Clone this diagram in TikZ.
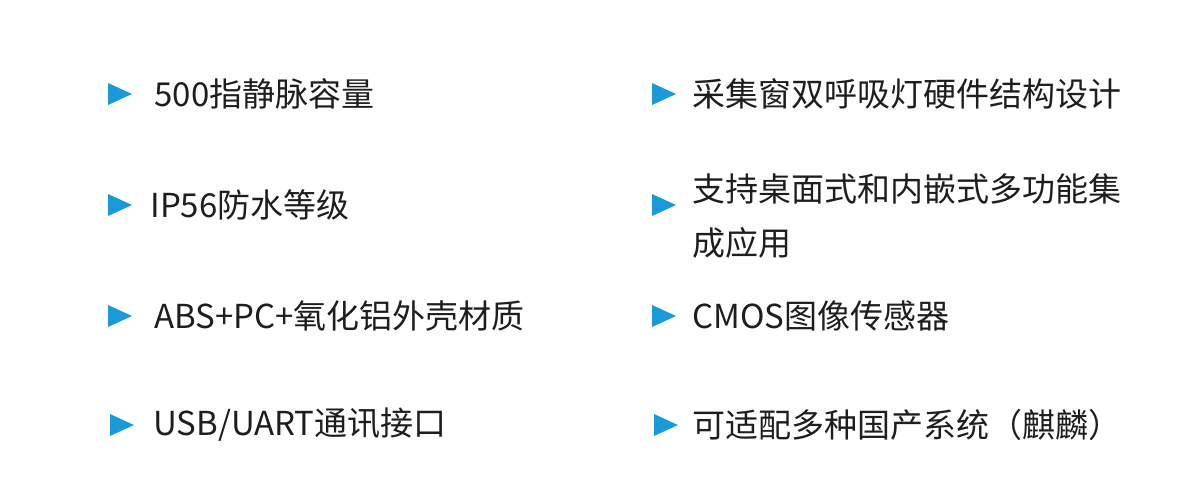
\documentclass[tikz,border=0pt]{standalone}
\usepackage{fontspec}
\setmainfont{Noto Sans CJK SC}
\begin{document}
\begin{tikzpicture}[x=0.5pt,y=-0.5pt,
  tri/.style={fill={rgb,255:red,26;green,154;blue,214},draw=none},
  item/.style={anchor=west,inner sep=0,text={rgb,255:red,30;green,30;blue,30},font=\fontsize{16.5}{27}\selectfont,align=left}]
\useasboundingbox (0,0) rectangle (1200,500);
\foreach \x/\y [count=\i] in {108/94,108/205,108/316,110/425,652/94,652/205,652/316,654/425}{
  \fill[tri] (\x,\y-11) -- (\x+24,\y) -- (\x,\y+11) -- cycle;
}
\node[item] (a1) at (154,94) {500指静脉容量};
\node[item] (a2) at (150,205) {IP56防水等级};
\node[item] (a3) at (154,316) {ABS+PC+氧化铝外壳材质};
\node[item] (a4) at (153,425) {USB/UART通讯接口};
\node[item] (b1) at (692,94) {采集窗双呼吸灯硬件结构设计};
\node[item] (b2) at (692,216) {支持桌面式和内嵌式多功能集\\成应用};
\node[item] (b3) at (692,316) {CMOS图像传感器};
\node[item] (b4) at (692,425) {可适配多种国产系统（麒麟）};
\end{tikzpicture}
\end{document}
